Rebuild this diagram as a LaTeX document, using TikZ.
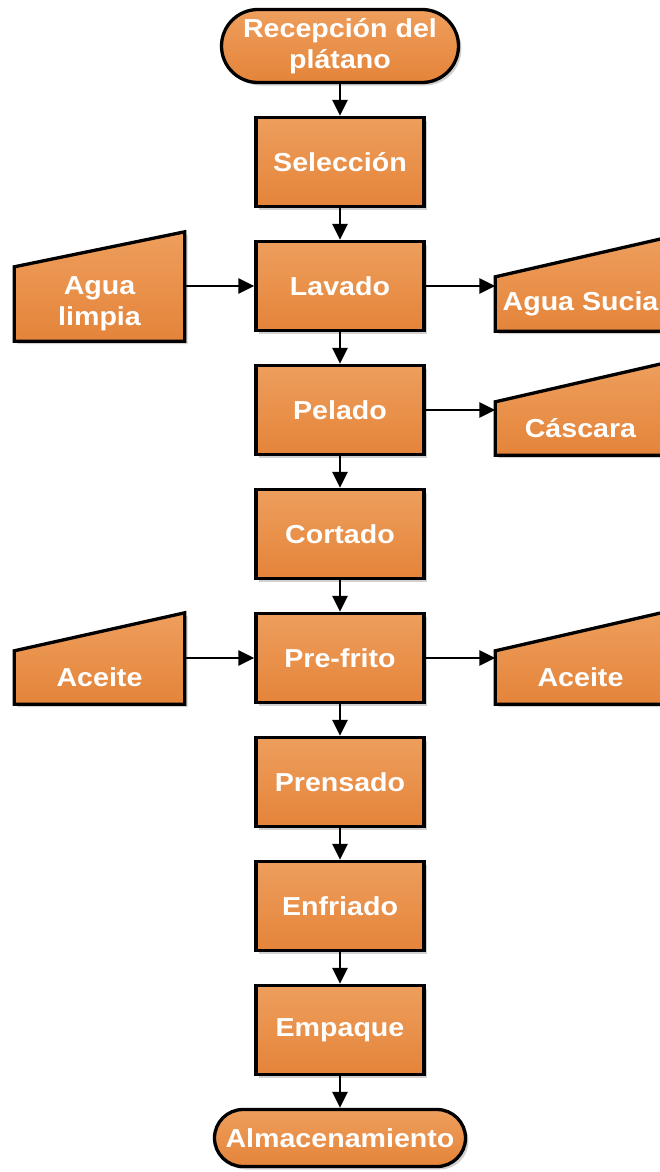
\documentclass[tikz,border=0pt]{standalone}
\usepackage{fontspec}
\setmainfont{Liberation Sans}[FakeStretch=1.1]
\usetikzlibrary{arrows.meta,shadows,backgrounds}
\definecolor{otop}{HTML}{EE9E5C}
\definecolor{obot}{HTML}{E4843A}
\tikzset{
  lbl/.style={text=white,font=\bfseries\fontsize{26}{31}\selectfont,align=center},
  shd/.style={drop shadow={shadow xshift=3pt,shadow yshift=-3pt,fill=black,opacity=0.18}},
  ofill/.style={draw=black,line width=3.3pt,top color=otop,bottom color=obot,shd},
  proc/.style={ofill,lbl,minimum width=168pt,minimum height=89pt,inner sep=0pt},
  term/.style={ofill,lbl,inner sep=0pt},
  iotext/.style={lbl,minimum width=170pt,inner sep=0pt},
  conn/.style={line width=2.8pt,-{Triangle[length=16pt,width=15pt]}},
}
\begin{document}
\begin{tikzpicture}[x=1pt,y=-1pt]
\useasboundingbox (0,0) rectangle (659,1172);
\clip (0,0) rectangle (659,1172);
\node[term,minimum width=237pt,minimum height=73pt,rounded corners=36.5pt] (rec) at (340,46) {Recepción del\\plátano};
\node[proc] (sel) at (340,162) {Selección};
\node[proc] (lav) at (340,286) {Lavado};
\node[proc] (pel) at (340,410) {Pelado};
\node[proc] (cor) at (340,534) {Cortado};
\node[proc] (pre) at (340,658) {Pre-frito};
\node[proc] (prn) at (340,782) {Prensado};
\node[proc] (enf) at (340,906) {Enfriado};
\node[proc] (emp) at (340,1030) {Empaque};
\node[term,minimum width=251pt,minimum height=57pt,rounded corners=28.5pt] (alm) at (340,1138) {Almacenamiento};
\node[iotext,minimum height=74pt] (limpia) at (99.5,304) {Agua\\limpia};
\node[iotext,minimum height=53pt] (aceiteL) at (99.5,677.5) {Aceite};
\node[iotext,minimum height=54pt] (sucia) at (580.5,304) {Agua Sucia};
\node[iotext,minimum height=53pt] (casc) at (580.5,428.5) {Cáscara};
\node[iotext,minimum height=53pt] (aceiteR) at (580.5,677.5) {Aceite};
\begin{scope}[on background layer]
\foreach \n/\s in {limpia/35,aceiteL/38,sucia/39,casc/39,aceiteR/39}{
  \draw[ofill,line join=miter] (\n.south west) -- (\n.north west) -- ([yshift=\s pt]\n.north east) -- (\n.south east) -- cycle;
}
\end{scope}
\draw[conn] (rec) -- (sel);
\draw[conn] (sel) -- (lav);
\draw[conn] (lav) -- (pel);
\draw[conn] (pel) -- (cor);
\draw[conn] (cor) -- (pre);
\draw[conn] (pre) -- (prn);
\draw[conn] (prn) -- (enf);
\draw[conn] (enf) -- (emp);
\draw[conn] (emp) -- (alm);
\draw[conn] (limpia.east |- lav) -- (lav);
\draw[conn] (lav) -- (sucia.west |- lav);
\draw[conn] (pel) -- (casc.west |- pel);
\draw[conn] (aceiteL.east |- pre) -- (pre);
\draw[conn] (pre) -- (aceiteR.west |- pre);
\end{tikzpicture}
\end{document}
